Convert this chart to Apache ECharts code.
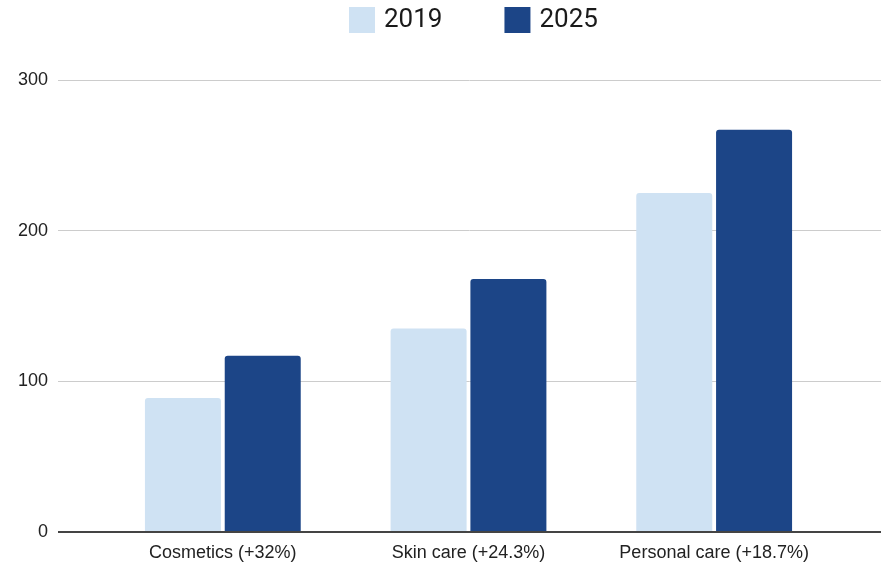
<!DOCTYPE html>
<html>
<head>
<meta charset="utf-8">
<script src="https://cdn.jsdelivr.net/npm/echarts@6/dist/echarts.min.js"></script>
<style>
  html, body { margin: 0; padding: 0; background: #fff; }
  #chart { width: 885px; height: 564px; }
</style>
</head>
<body>
<div id="chart"></div>
<script>
// values
const categories = ['Cosmetics (+32%)', 'Skin care (+24.3%)', 'Personal care (+18.7%)']
const values2019 = [89, 135, 225]
const values2025 = [117, 168, 267]
const yTicks = [0, 100, 200, 300]

const chart = echarts.init(document.getElementById('chart'))

const yMax = yTicks[yTicks.length - 1]

const option = {
  animation: false,
  legend: {
    top: 2,
    left: 344,
    itemWidth: 26,
    itemHeight: 26,
    itemGap: 62,
    icon: 'rect',
    textStyle: { fontFamily: 'Roboto', fontSize: 26, color: '#1a1a1a', padding: [0, 0, 0, 4] },
    data: ['2019', '2025']
  },
  grid: [
    // background grid: gridlines + y labels across the full width
    { left: 58, right: 4, top: 80, bottom: 32 },
    // bars sit in a narrower band, like the reference
    { left: 100, right: 48, top: 80, bottom: 32 }
  ],
  xAxis: [
    {
      gridIndex: 0,
      type: 'value',
      min: 0,
      max: 1,
      show: false
    },
    {
      gridIndex: 1,
      type: 'category',
      data: categories,
      axisLine: { show: false },
      axisTick: { show: false },
      axisLabel: {
        interval: 0,
        fontFamily: 'Liberation Sans',
        fontSize: 18,
        color: '#222',
        margin: 12
      }
    }
  ],
  yAxis: [
    {
      gridIndex: 0,
      type: 'value',
      min: 0,
      max: yMax,
      interval: 100,
      axisLine: { show: false },
      axisTick: { show: false },
      axisLabel: {
        fontFamily: 'Liberation Sans',
        fontSize: 18,
        color: '#222',
        margin: 10
      },
      splitLine: { lineStyle: { color: '#cccccc', width: 1 } }
    },
    {
      gridIndex: 1,
      type: 'value',
      min: 0,
      max: yMax,
      show: false
    }
  ],
  series: [
    {
      // zero baseline across the full width
      type: 'line',
      xAxisIndex: 0,
      yAxisIndex: 0,
      data: [[0, 0], [1, 0]],
      symbol: 'none',
      silent: true,
      lineStyle: { color: '#444', width: 2 },
      z: 5
    },
    {
      name: '2019',
      type: 'bar',
      xAxisIndex: 1,
      yAxisIndex: 1,
      data: values2019,
      barWidth: 76,
      barGap: '5%',
      itemStyle: { color: '#cfe2f3', borderRadius: [3, 3, 0, 0] }
    },
    {
      name: '2025',
      type: 'bar',
      xAxisIndex: 1,
      yAxisIndex: 1,
      data: values2025,
      barWidth: 76,
      barGap: '5%',
      itemStyle: { color: '#1c4587', borderRadius: [3, 3, 0, 0] }
    }
  ]
}

chart.setOption(option)
</script>
</body>
</html>
